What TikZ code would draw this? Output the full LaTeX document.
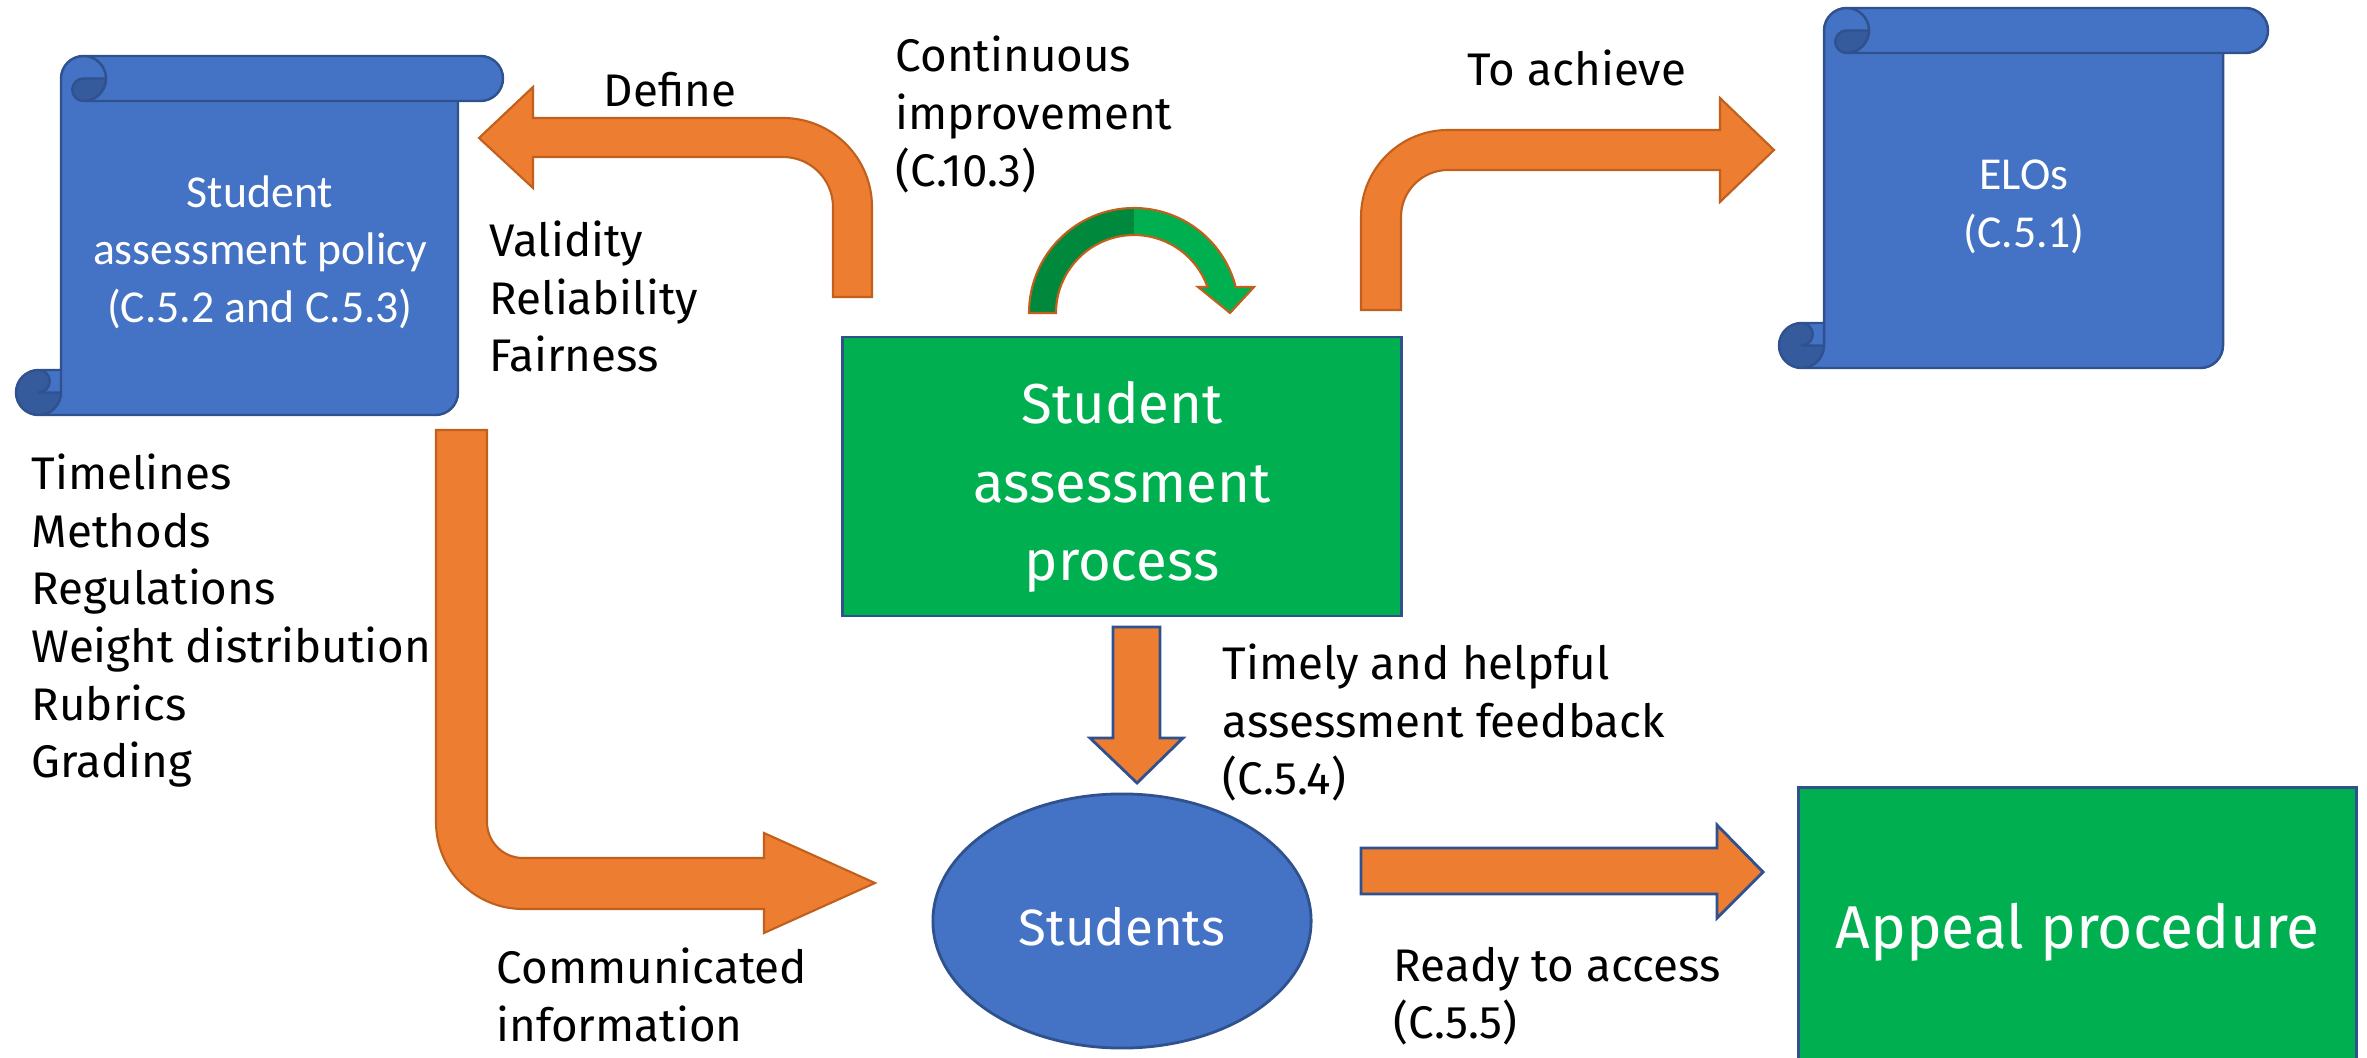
\documentclass[tikz,border=0pt]{standalone}
\usepackage{fontspec}
\setmainfont{Fira Sans}
\newfontfamily\scrollfont{Carlito}
\usepackage{tikz}
\usetikzlibrary{shapes}
\definecolor{fillblue}{HTML}{4472C4}
\definecolor{lineblue}{HTML}{2F528F}
\definecolor{curlblue}{HTML}{365B9D}
\definecolor{boxgreen}{HTML}{00B050}
\definecolor{darkgreen}{HTML}{00893D}
\definecolor{arroworange}{HTML}{ED7D31}
\definecolor{lineorange}{HTML}{C0601C}

\begin{document}
\begin{tikzpicture}[x=0.01cm,y=-0.01cm]
      \tikzstyle{lbl}=[anchor=north west,inner sep=0pt,align=left,font=\fontsize{13}{16.4}\selectfont,execute at begin node=\strut]
      \tikzstyle{scrolltext}=[text=white,align=center,font=\scrollfont\fontsize{13}{16.4}\selectfont]
      \tikzstyle{greenbox}=[rectangle,draw=lineblue,fill=boxgreen,text=white,align=center,line width=0.8pt,minimum width=5.58cm]
      \tikzstyle{bent}=[fill=arroworange,draw=lineorange,line width=0.6pt]
      \tikzstyle{straight}=[fill=arroworange,draw=lineblue,line width=0.8pt]
      \useasboundingbox (0,0) rectangle (2367,1058);
      \foreach \xa/\ya/\xb/\yb in {16/56/503/415,1779/8/2268/368}
      {
        \fill[fillblue] ({\xa+22.5},\yb) arc[start angle=90,delta angle=-90,radius=22.5] -- ({\xa+22.5},{\yb-22.5})
          arc[start angle=90,delta angle=-180,radius=11.25] -- ({\xa+45},{\yb-45}) -- ({\xa+45},{\ya+22.5})
          arc[start angle=180,delta angle=90,radius=22.5] -- ({\xb-22.5},\ya) arc[start angle=270,delta angle=180,radius=22.5]
          -- ({\xb-45},{\ya+45}) -- ({\xb-45},{\yb-22.5}) arc[start angle=0,delta angle=90,radius=22.5] -- cycle;
        \fill[curlblue] ({\xa+90},{\ya+22.5}) arc[start angle=0,delta angle=90,radius=22.5]
          arc[start angle=90,delta angle=180,radius=11.25] -- cycle
          ({\xa+45},{\yb-22.5}) arc[start angle=0,delta angle=270,radius=22.5]
          arc[start angle=270,delta angle=180,radius=11.25] -- cycle;
        \draw[lineblue,line width=0.7pt,line join=round] ({\xa+45},{\yb-45}) -- ({\xa+45},{\ya+22.5})
          arc[start angle=180,delta angle=90,radius=22.5] -- ({\xb-22.5},\ya) arc[start angle=270,delta angle=180,radius=22.5]
          -- ({\xb-45},{\ya+45}) -- ({\xb-45},{\yb-22.5}) arc[start angle=0,delta angle=90,radius=22.5]
          -- ({\xa+22.5},\yb) arc[start angle=90,delta angle=180,radius=22.5] -- cycle
          ({\xa+67.5},\ya) arc[start angle=270,delta angle=180,radius=22.5] arc[start angle=90,delta angle=180,radius=11.25]
          -- ({\xa+90},{\ya+22.5})
          ({\xb-45},{\ya+45}) -- ({\xa+67.5},{\ya+45})
          ({\xa+22.5},{\yb-45}) arc[start angle=270,delta angle=180,radius=11.25] -- ({\xa+45},{\yb-22.5})
          ({\xa+22.5},\yb) arc[start angle=90,delta angle=-90,radius=22.5] -- ({\xa+45},{\yb-45});
      }
      \node[scrolltext] (policy) at (260,252) {Student\\assessment policy\\(C.5.2 and C.5.3)};
      \node[scrolltext] (elos) at (2024,207) {ELOs\\(C.5.1)};
      \node[greenbox,minimum height=2.79cm,font=\fontsize{16}{22.3}\selectfont] (process) at (1122,476.5) {\rule{0pt}{18pt}Student\\assessment\\process};
      \node[ellipse,draw=lineblue,fill=fillblue,text=white,line width=0.8pt,minimum width=3.78cm,minimum height=2.54cm,font=\fontsize{14.5}{17}\selectfont] (students) at (1122,921) {\rule{0pt}{14pt}Students};
      \node[greenbox,anchor=north west,minimum height=2.9cm,font=\fontsize{17.2}{22}\selectfont] (appeal) at (1797,786) {Appeal procedure};
      \draw[bent] (872,297) -- (872,207) arc[start angle=0,end angle=-90,radius=89] -- (533,118) -- (533,87) -- (479,138)
        -- (533,188) -- (533,157) -- (783,157) arc[start angle=-90,end angle=0,radius=50] -- (833,297) -- cycle;
      \draw[bent] (436,430) -- (436,822) arc[start angle=180,end angle=90,radius=87] -- (764,909) -- (764,933) -- (875,883)
        -- (764,833) -- (764,858) -- (523,858) arc[start angle=90,end angle=180,radius=36] -- (487,430) -- cycle;
      \draw[bent] (1361,310) -- (1361,217) arc[start angle=180,end angle=270,radius=87] -- (1720,130) -- (1720,98) -- (1774,150)
        -- (1720,202) -- (1720,170) -- (1448,170) arc[start angle=270,end angle=180,radius=47] -- (1401,310) -- cycle;
      \path[fill=boxgreen,draw=lineorange,line width=0.6pt,path picture={\fill[darkgreen] (1000,200) rectangle (1134,330);}]
        (1029,313) arc[start angle=180,end angle=345.7,radius=105] -- (1254,287) -- (1230,313) -- (1198,287) -- (1207.5,287)
        arc[start angle=340.5,end angle=180,radius=78] -- cycle;
      \draw[straight] (1113,627) -- (1160,627) -- (1160,738) -- (1183,738) -- (1137,783) -- (1090,738) -- (1113,738) -- cycle;
      \draw[straight] (1361,848) -- (1717,848) -- (1717,825) -- (1763,872) -- (1717,918) -- (1717,894) -- (1361,894) -- cycle;
      \node[lbl] (define) at (603,65) {Define};
      \node[lbl] (improve) at (895,35) {Continuous\\improvement\\(C.10.3)};
      \node[lbl] (achieve) at (1467,44) {To achieve};
      \node[lbl] (quality) at (489,220) {Validity\\Reliability\\Fairness};
      \node[lbl] (aspects) at (31,453) {Timelines\\Methods\\Regulations\\Weight distribution\\Rubrics\\Grading};
      \node[lbl] (feedback) at (1222,643) {Timely and helpful\\assessment feedback\\(C.5.4)};
      \node[lbl] (communicated) at (496,947) {Communicated\\information};
      \node[lbl] (access) at (1393,946) {Ready to access\\(C.5.5)};
\end{tikzpicture}
\end{document}
